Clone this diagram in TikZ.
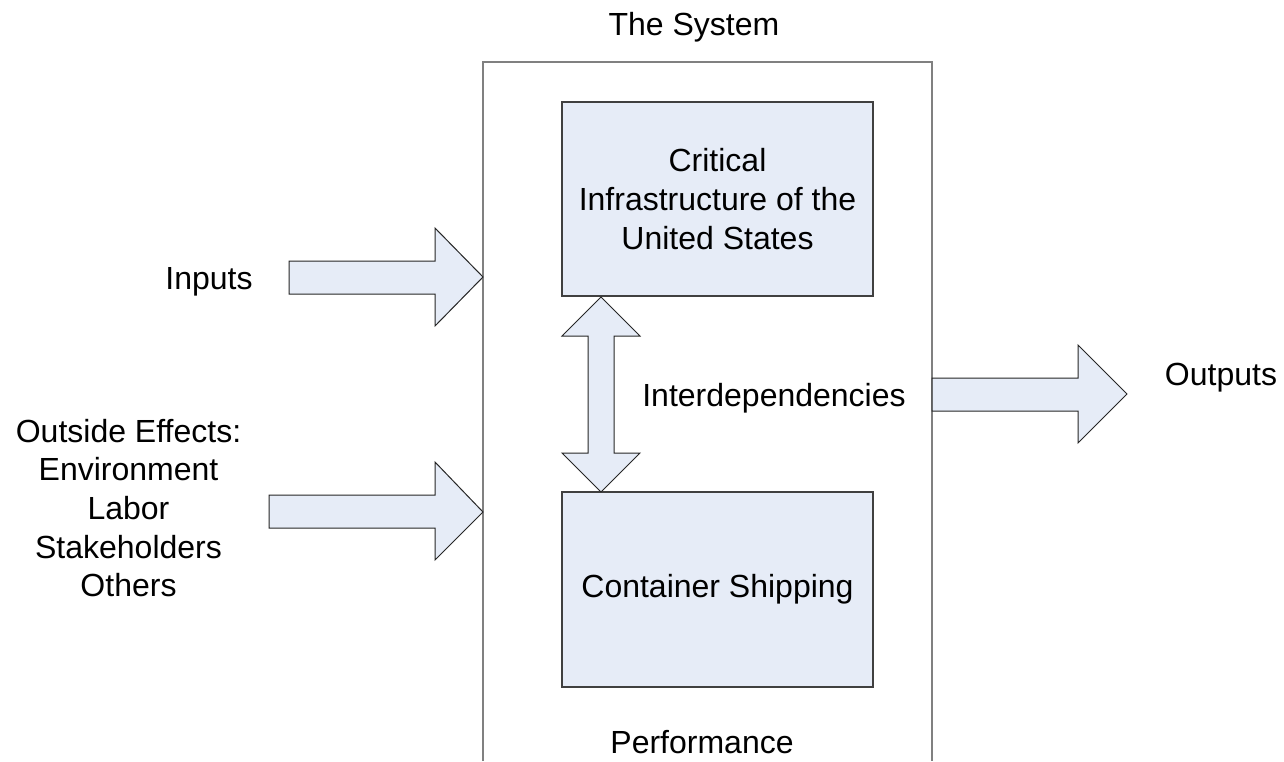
\documentclass[tikz,border=0pt]{standalone}
\usepackage{fontspec}
\setmainfont{Liberation Sans}
\definecolor{boxfill}{RGB}{230,236,247}
\tikzset{
	box/.style={draw=black!75, fill=boxfill, line width=0.7pt, minimum width=155.5pt, align=center, inner sep=0pt},
	blockarrow/.style={draw=black!85, fill=boxfill, line width=0.5pt, line join=miter},
	label/.style={anchor=base}
}
\begin{document}
\begin{tikzpicture}[x=0.5pt, y=-0.5pt, font=\fontsize{16pt}{19.3pt}\selectfont]
	\useasboundingbox (0,0) rectangle (1284,761);

	% the system frame, open at the bottom
	\draw[black!50, line width=0.75pt](483,761)--(483,62)--(932,62)--(932,761);
	\node[label] (sys) at (694,35) {The System};
	\node[label] (perf) at (702,753) {Performance};

	\node[box, minimum height=97pt] (crit) at (717.5,199) {Critical\\Infrastructure of the\\United States};
	\node[box, minimum height=97.5pt] (ship) at (717.5,589.5) {Container Shipping};

	% interdependencies
	\draw[blockarrow](601,297)--(640,336)--(614,336)--(614,453)--(640,453)--(601,492)
		--(562,453)--(588,453)--(588,336)--(562,336)--cycle;
	\node[label] (inter) at (774,406) {Interdependencies};

	% inputs
	\draw[blockarrow](289,261)--(435,261)--(435,228)--(483,277)--(435,326)--(435,294)--(289,294)--cycle;
	\node[label] (in) at (209,289) {Inputs};

	% outside effects
	\draw[blockarrow](269,495)--(435,495)--(435,462)--(483,512)--(435,560)--(435,528)--(269,528)--cycle;
	\node[align=center] (outside) at (128.5,508) {Outside Effects:\\Environment\\Labor\\Stakeholders\\Others};

	% outputs
	\draw[blockarrow](932,378)--(1078,378)--(1078,345)--(1127,394)--(1078,443)--(1078,411)--(932,411)--cycle;
	\node[label] (out) at (1221,385) {Outputs};
\end{tikzpicture}
\end{document}
